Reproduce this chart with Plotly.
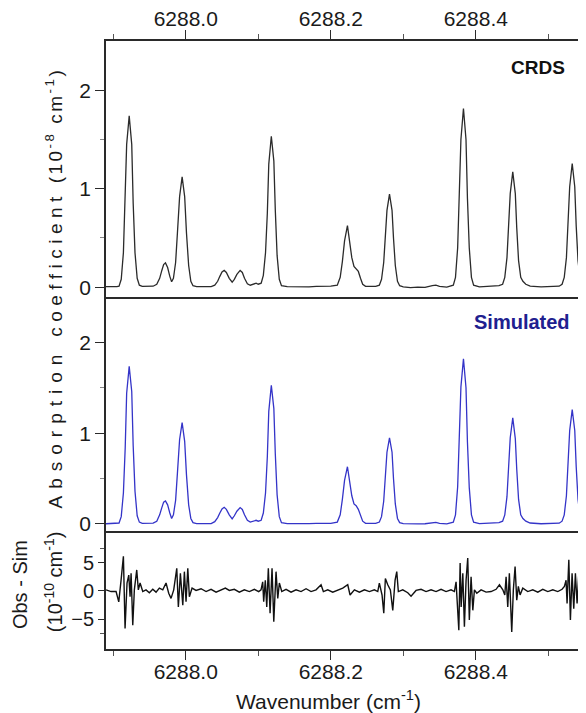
import plotly.graph_objects as go

# ---------------- data ----------------
wavenumber = [
    6287.890, 6287.900, 6287.905,
    6287.908, 6287.911, 6287.914, 6287.9165, 6287.9185, 6287.922, 6287.9255, 6287.9275, 6287.930, 6287.933, 6287.936, 6287.940, 6287.948, 6287.955,
    6287.960, 6287.964, 6287.967, 6287.9695, 6287.972, 6287.975, 6287.978, 6287.9805, 6287.983, 6287.986, 6287.9885, 6287.9915, 6287.995, 6287.9985, 6288.001, 6288.004, 6288.007, 6288.010, 6288.015, 6288.025, 6288.035,
    6288.040, 6288.044, 6288.047, 6288.050, 6288.053, 6288.056, 6288.060, 6288.064, 6288.067, 6288.0705, 6288.075, 6288.078, 6288.081, 6288.085, 6288.089, 6288.094, 6288.097, 6288.100,
    6288.104, 6288.107, 6288.110, 6288.1125, 6288.1145, 6288.118, 6288.1215, 6288.1235, 6288.126, 6288.129, 6288.132, 6288.140, 6288.150, 6288.160, 6288.170, 6288.180, 6288.190, 6288.200,
    6288.209, 6288.213, 6288.216, 6288.219, 6288.223, 6288.226, 6288.229, 6288.232, 6288.235, 6288.238, 6288.241, 6288.244, 6288.248, 6288.255, 6288.262,
    6288.267, 6288.270, 6288.273, 6288.2755, 6288.2775, 6288.281, 6288.2845, 6288.2865, 6288.289, 6288.292, 6288.295, 6288.300, 6288.310, 6288.320, 6288.330, 6288.340, 6288.345, 6288.350, 6288.360,
    6288.369, 6288.372, 6288.375, 6288.3775, 6288.3795, 6288.383, 6288.3865, 6288.3885, 6288.391, 6288.394, 6288.397, 6288.405, 6288.420, 6288.432,
    6288.437, 6288.440, 6288.443, 6288.4455, 6288.4475, 6288.451, 6288.4545, 6288.4565, 6288.459, 6288.462, 6288.465, 6288.469, 6288.475, 6288.490, 6288.505, 6288.515,
    6288.519, 6288.522, 6288.525, 6288.5275, 6288.5295, 6288.533, 6288.5365, 6288.5385, 6288.541, 6288.544, 6288.547, 6288.552,
]

absorption_obs = [
    0.005, 0.003, 0.006,
    0.01, 0.08, 0.35, 0.85, 1.45, 1.74, 1.45, 0.85, 0.35, 0.09, 0.02, 0.008, 0.006, 0.01,
    0.03, 0.09, 0.17, 0.23, 0.247, 0.2, 0.11, 0.055, 0.09, 0.25, 0.55, 0.92, 1.12, 0.92, 0.55, 0.22, 0.06, 0.015, 0.005, 0.004, 0.006,
    0.02, 0.06, 0.11, 0.155, 0.17, 0.15, 0.09, 0.05, 0.08, 0.13, 0.17, 0.15, 0.09, 0.035, 0.02, 0.03, 0.04, 0.03,
    0.04, 0.12, 0.35, 0.75, 1.25, 1.533, 1.28, 0.78, 0.32, 0.08, 0.015, 0.006, 0.003, 0.007, 0.004, 0.008, 0.006, 0.01,
    0.02, 0.1, 0.26, 0.47, 0.626, 0.48, 0.3, 0.21, 0.19, 0.16, 0.09, 0.03, 0.008, 0.005, 0.008,
    0.02, 0.08, 0.25, 0.5, 0.78, 0.944, 0.78, 0.5, 0.22, 0.06, 0.015, 0.004, -0.004, 0.0, -0.002, 0.015, 0.02, 0.008, 0.0,
    0.02, 0.1, 0.4, 0.9, 1.5, 1.814, 1.5, 0.9, 0.4, 0.1, 0.02, 0.004, 0.008, 0.015,
    0.03, 0.1, 0.3, 0.6, 0.95, 1.171, 0.95, 0.6, 0.27, 0.1, 0.06, 0.03, 0.01, 0.003, 0.006, 0.01,
    0.03, 0.1, 0.3, 0.65, 1.02, 1.256, 1.02, 0.62, 0.27, 0.08, 0.02, 0.006,
]

absorption_sim = [
    0.002, 0.002, 0.003,
    0.01, 0.08, 0.34, 0.84, 1.44, 1.736, 1.46, 0.86, 0.36, 0.09, 0.02, 0.006, 0.004, 0.008,
    0.03, 0.1, 0.18, 0.24, 0.253, 0.21, 0.12, 0.06, 0.1, 0.26, 0.56, 0.93, 1.117, 0.91, 0.54, 0.21, 0.06, 0.014, 0.004, 0.003, 0.004,
    0.025, 0.07, 0.12, 0.165, 0.183, 0.16, 0.1, 0.055, 0.09, 0.14, 0.18, 0.16, 0.1, 0.04, 0.02, 0.03, 0.04, 0.03,
    0.04, 0.12, 0.34, 0.74, 1.24, 1.527, 1.27, 0.77, 0.32, 0.08, 0.014, 0.004, 0.002, 0.004, 0.003, 0.005, 0.004, 0.006,
    0.02, 0.1, 0.27, 0.48, 0.63, 0.49, 0.31, 0.22, 0.2, 0.16, 0.09, 0.03, 0.007, 0.004, 0.005,
    0.02, 0.08, 0.25, 0.51, 0.79, 0.948, 0.79, 0.5, 0.22, 0.06, 0.014, 0.003, -0.002, 0.0, 0.002, 0.012, 0.016, 0.006, 0.0,
    0.02, 0.1, 0.41, 0.91, 1.51, 1.82, 1.5, 0.9, 0.4, 0.1, 0.02, 0.003, 0.006, 0.014,
    0.03, 0.1, 0.3, 0.6, 0.95, 1.168, 0.94, 0.6, 0.27, 0.1, 0.06, 0.03, 0.01, 0.002, 0.004, 0.008,
    0.03, 0.1, 0.31, 0.66, 1.03, 1.26, 1.03, 0.63, 0.27, 0.08, 0.02, 0.005,
]

residual_wavenumber = [
    6287.8901, 6287.8970, 6287.9039, 6287.9076, 6287.9108, 6287.9140, 6287.9163, 6287.9190, 6287.9214, 6287.9232,
    6287.9246, 6287.9269, 6287.9291, 6287.9324, 6287.9346, 6287.9370, 6287.9407, 6287.9452, 6287.9498, 6287.9545,
    6287.9590, 6287.9636, 6287.9683, 6287.9728, 6287.9765, 6287.9797, 6287.9834, 6287.9876, 6287.9898, 6287.9926,
    6287.9959, 6287.9981, 6288.0004, 6288.0028, 6288.0050, 6288.0087, 6288.0142, 6288.0211, 6288.0280, 6288.0349,
    6288.0418, 6288.0487, 6288.0546, 6288.0601, 6288.0670, 6288.0739, 6288.0808, 6288.0877, 6288.0946, 6288.1006,
    6288.1038, 6288.1061, 6288.1075, 6288.1097, 6288.1117, 6288.1139, 6288.1163, 6288.1190, 6288.1214, 6288.1245,
    6288.1269, 6288.1291, 6288.1324, 6288.1383, 6288.1452, 6288.1521, 6288.1590, 6288.1659, 6288.1728, 6288.1797,
    6288.1866, 6288.1898, 6288.1958, 6288.2027, 6288.2096, 6288.2165, 6288.2234, 6288.2266, 6288.2326, 6288.2395,
    6288.2464, 6288.2533, 6288.2601, 6288.2648, 6288.2670, 6288.2707, 6288.2731, 6288.2753, 6288.2786, 6288.2822,
    6288.2855, 6288.2887, 6288.2910, 6288.2932, 6288.2993, 6288.3062, 6288.3107, 6288.3176, 6288.3245, 6288.3314,
    6288.3383, 6288.3452, 6288.3521, 6288.3590, 6288.3659, 6288.3705, 6288.3728, 6288.3746, 6288.3766, 6288.3784,
    6288.3798, 6288.3821, 6288.3843, 6288.3866, 6288.3889, 6288.3911, 6288.3935, 6288.3959, 6288.3981, 6288.4014,
    6288.4073, 6288.4142, 6288.4211, 6288.4280, 6288.4326, 6288.4373, 6288.4400, 6288.4418, 6288.4441, 6288.4463,
    6288.4496, 6288.4518, 6288.4542, 6288.4565, 6288.4587, 6288.4611, 6288.4648, 6288.4717, 6288.4786, 6288.4855,
    6288.4924, 6288.4993, 6288.5062, 6288.5131, 6288.5190, 6288.5222, 6288.5245, 6288.5259, 6288.5283, 6288.5305,
    6288.5328, 6288.5351, 6288.5374, 6288.5397, 6288.5421, 6288.5452, 6288.5476, 6288.5512,
]

residual = [
    0.2, -0.1, -0.1, -1.9, 1.9, 6.1, -6.6, 1.4, 2.8, -1.0,
    3.1, -6.0, 0.2, 3.7, 0.2, 1.4, -0.1, 0.2, -0.3, 0.3,
    -0.2, 0.5, 0.2, 1.4, -0.4, -1.3, 0.2, 4.0, -2.8, 3.1,
    -2.5, 3.4, -1.9, 4.0, -1.0, 0.5, 0.1, 0.4, -0.1, 0.3,
    -0.2, 0.2, 0.5, 0.1, 0.3, -0.2, 0.2, -0.1, 0.3, -0.1,
    0.2, 1.6, -1.9, 1.9, -2.8, 4.0, -3.9, 4.0, -5.4, 3.4,
    -1.3, 1.4, -0.1, 0.3, -0.2, 0.2, -0.1, 0.4, -0.1, 0.2,
    1.1, -0.1, 0.2, -0.2, 0.2, 0.5, 1.1, -0.7, 0.2, -0.2,
    0.2, -0.1, 0.2, -0.1, 1.4, -0.7, -3.9, 2.2, 1.1, 0.2,
    -3.4, 1.9, 3.4, -0.1, 0.2, -0.3, -0.9, 0.1, 0.3, -0.1,
    0.2, -0.1, 0.3, -0.1, 0.2, -0.1, 1.6, -2.8, -6.9, 4.9,
    -2.8, 3.1, -6.3, 1.9, 5.8, -5.1, 2.5, -3.4, 0.2, -0.4,
    0.2, -0.2, -0.1, 0.3, 1.1, 0.2, -0.7, 2.5, -2.8, 3.1,
    -7.2, 0.2, 4.3, -1.6, 0.8, -0.7, 0.5, -0.1, 0.2, -0.2,
    0.3, -0.1, 0.2, -0.1, 0.3, 0.8, 1.9, -2.2, 5.5, -5.1,
    3.1, -3.1, 3.1, -2.2, 3.1, -0.4, 0.5, 0.2,
]

x_range = [6287.89, 6288.552]
top_ticks = [6288.0, 6288.2, 6288.4]
abs_range = [-0.1, 2.5]
abs_ticks = [0, 1, 2]
res_range = [-10.2, 10.2]
res_ticks = [-5, 0, 5]

# ---------------- figure ----------------
FONT = "Liberation Sans, Arial, sans-serif"
AX = "#2a2a2a"
TXT = "#1a1a1a"

fig = go.Figure()
fig.add_trace(go.Scatter(x=wavenumber, y=absorption_obs, mode="lines",
                         line=dict(color="#2b2b2b", width=1.3), xaxis="x", yaxis="y",
                         showlegend=False, hoverinfo="skip"))
fig.add_trace(go.Scatter(x=wavenumber, y=absorption_sim, mode="lines",
                         line=dict(color="#3434c8", width=1.3), xaxis="x2", yaxis="y2",
                         showlegend=False, hoverinfo="skip"))
fig.add_trace(go.Scatter(x=residual_wavenumber, y=residual, mode="lines",
                         line=dict(color="#111111", width=1.4), xaxis="x3", yaxis="y3",
                         showlegend=False, hoverinfo="skip"))

d_bot = [0.0, 0.1908]
d_mid = [0.1908, 0.5789]
d_top = [0.5789, 1.0]

common_x = dict(range=x_range, showgrid=False, zeroline=False,
                linecolor=AX, linewidth=1.8,
                tickfont=dict(family=FONT, size=21, color=TXT))

fig.update_layout(
    # the page body adds an 8 px margin, so the figure is 8 px smaller
    width=578, height=705,
    margin=dict(l=98, r=0, t=33, b=64),
    paper_bgcolor="white", plot_bgcolor="white",
    font=dict(family=FONT, color=TXT),
    xaxis=dict(common_x, anchor="y", side="top", tickvals=top_ticks, tickformat=".1f",
               showline=True, mirror=True, ticklabelstandoff=-4,
               ticks="outside", ticklen=9, tickwidth=1.4, tickcolor=AX,
               minor=dict(dtick=0.1, tick0=6287.9, ticks="outside", ticklen=5, tickwidth=1.2, tickcolor="#555")),
    xaxis2=dict(common_x, anchor="y2", showticklabels=False, ticks="", showline=False),
    xaxis3=dict(common_x, anchor="y3", side="bottom", tickvals=top_ticks, tickformat=".1f",
                showline=True, mirror=True, ticklabelstandoff=-6,
                ticks="outside", ticklen=9, tickwidth=1.4, tickcolor=AX,
                minor=dict(dtick=0.1, tick0=6287.9, ticks="outside", ticklen=5, tickwidth=1.2, tickcolor="#555")),
    yaxis=dict(domain=d_top, anchor="x", range=abs_range, tickvals=abs_ticks,
               showgrid=False, zeroline=False, showline=True, linecolor=AX, linewidth=1.8,
               ticks="outside", ticklen=9, tickwidth=1.4, tickcolor=AX,
               minor=dict(tickvals=[0.5, 1.5], ticks="outside", ticklen=4, tickwidth=1, tickcolor="#888"),
               tickfont=dict(family=FONT, size=21, color=TXT)),
    yaxis2=dict(domain=d_mid, anchor="x2", range=abs_range, tickvals=abs_ticks,
                showgrid=False, zeroline=False, showline=True, linecolor=AX, linewidth=1.8,
                ticks="outside", ticklen=9, tickwidth=1.4, tickcolor=AX,
                minor=dict(tickvals=[0.5, 1.5], ticks="outside", ticklen=4, tickwidth=1, tickcolor="#888"),
                tickfont=dict(family=FONT, size=21, color=TXT)),
    yaxis3=dict(domain=d_bot, anchor="x3", range=res_range, tickvals=res_ticks,
                showgrid=False, zeroline=False, showline=True, linecolor=AX, linewidth=1.8,
                ticks="outside", ticklen=6, tickwidth=1.4, tickcolor=AX,
                minor=dict(tickvals=[-7.5, 7.5], ticks="outside", ticklen=4, tickwidth=1, tickcolor="#555"),
                tickfont=dict(family=FONT, size=20, color=TXT)),
)

ann = []
ann.append(dict(text="<b>CRDS</b>", x=0.901, y=0.9556, xref="paper", yref="paper",
                showarrow=False, xanchor="center", yanchor="middle",
                font=dict(family=FONT, size=19, color="#111111")))
ann.append(dict(text="<b>Simulated</b>", x=0.8677, y=0.5378, xref="paper", yref="paper",
                showarrow=False, xanchor="center", yanchor="middle",
                font=dict(family=FONT, size=20, color="#20208f")))
ann.append(dict(text='<span style="letter-spacing:7px">Absorption</span>'
                     '<span style="letter-spacing:5.5px"> coefficient</span>'
                     '<span style="letter-spacing:2.5px"> (10<sup>-8</sup> cm<sup>-1</sup>)</span>',
                x=-0.1063, y=0.5946, xref="paper", yref="paper", textangle=-90,
                showarrow=False, xanchor="center", yanchor="middle",
                font=dict(family=FONT, size=19, color=TXT)))
ann.append(dict(text="Obs - Sim", x=-0.179, y=0.1053, xref="paper", yref="paper", textangle=-90,
                showarrow=False, xanchor="center", yanchor="middle",
                font=dict(family=FONT, size=20, color=TXT)))
ann.append(dict(text="(10<sup>-10</sup> cm<sup>-1</sup>)", x=-0.1104, y=0.110, xref="paper", yref="paper",
                textangle=-90, showarrow=False, xanchor="center", yanchor="middle",
                font=dict(family=FONT, size=20, color=TXT)))
ann.append(dict(text="Wavenumber (cm<sup>-1</sup>)", x=0.4625, y=-0.0839, xref="paper", yref="paper",
                showarrow=False, xanchor="center", yanchor="middle",
                font=dict(family=FONT, size=21, color=TXT)))
fig.update_layout(annotations=ann)

fig.write_html("out.html")
